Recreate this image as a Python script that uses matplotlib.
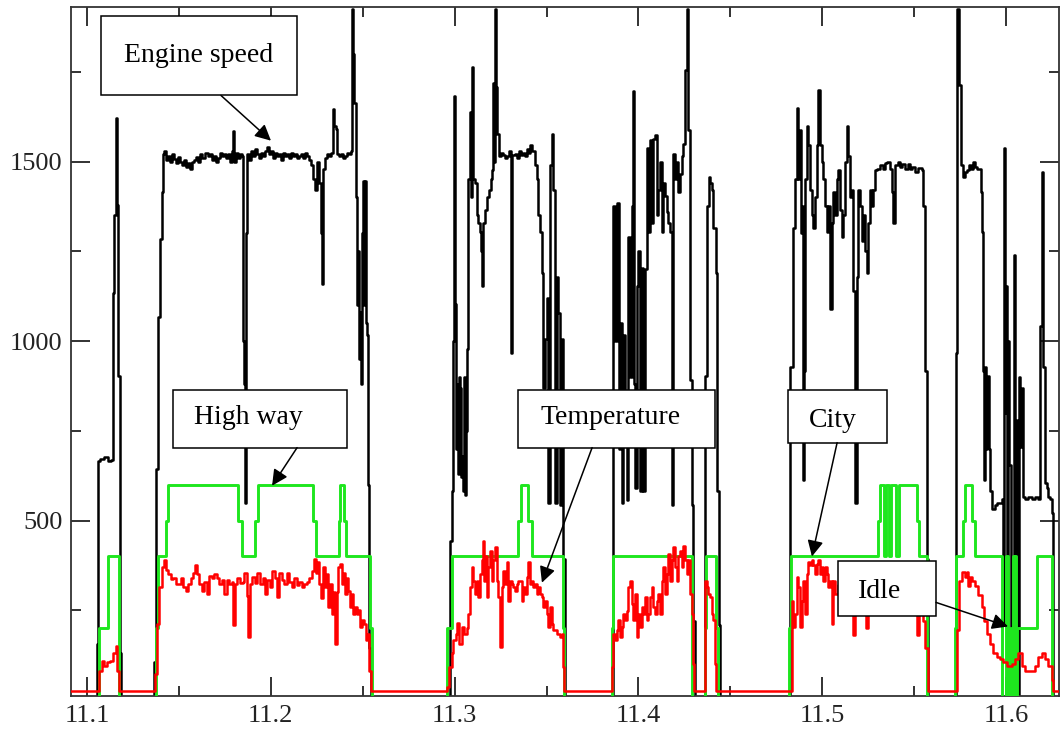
import matplotlib
matplotlib.use("Agg")
import matplotlib.pyplot as plt
from matplotlib.patches import Rectangle

plt.rcParams['font.family'] = ['Liberation Serif', 'DejaVu Serif']

# engine speed (black)
speed_t = [11.0913, 11.1054, 11.1060, 11.1071, 11.1092, 11.1114, 11.1131, 11.1141, 11.1147, 11.1158,
           11.1163, 11.1169, 11.1180, 11.1185, 11.1365, 11.1375, 11.1386, 11.1397, 11.1408, 11.1413,
           11.1419, 11.1430, 11.1441, 11.1452, 11.1462, 11.1473, 11.1484, 11.1495, 11.1506, 11.1517,
           11.1528, 11.1539, 11.1549, 11.1560, 11.1571, 11.1582, 11.1593, 11.1604, 11.1615, 11.1626,
           11.1642, 11.1658, 11.1669, 11.1680, 11.1691, 11.1702, 11.1713, 11.1724, 11.1735, 11.1745,
           11.1756, 11.1767, 11.1778, 11.1789, 11.1794, 11.1800, 11.1811, 11.1822, 11.1832, 11.1843,
           11.1849, 11.1854, 11.1860, 11.1865, 11.1871, 11.1881, 11.1892, 11.1903, 11.1914, 11.1925,
           11.1936, 11.1947, 11.1958, 11.1968, 11.1979, 11.1990, 11.2001, 11.2012, 11.2023, 11.2034,
           11.2045, 11.2055, 11.2066, 11.2077, 11.2088, 11.2099, 11.2110, 11.2121, 11.2132, 11.2143,
           11.2153, 11.2164, 11.2175, 11.2186, 11.2197, 11.2208, 11.2219, 11.2230, 11.2241, 11.2251,
           11.2262, 11.2273, 11.2279, 11.2284, 11.2295, 11.2306, 11.2317, 11.2328, 11.2338, 11.2344,
           11.2355, 11.2360, 11.2371, 11.2382, 11.2393, 11.2404, 11.2415, 11.2425, 11.2436, 11.2442,
           11.2447, 11.2453, 11.2464, 11.2469, 11.2474, 11.2480, 11.2485, 11.2491, 11.2496, 11.2502,
           11.2507, 11.2513, 11.2518, 11.2523, 11.2529, 11.2534, 11.2545,
           11.2959, 11.2975, 11.2986, 11.2991, 11.2997, 11.3002, 11.3008, 11.3013, 11.3018, 11.3024,
           11.3029, 11.3035, 11.3040, 11.3046, 11.3051, 11.3057, 11.3062, 11.3067, 11.3073, 11.3084,
           11.3089, 11.3095, 11.3100, 11.3111, 11.3122, 11.3127, 11.3138, 11.3144, 11.3149, 11.3155,
           11.3165, 11.3176, 11.3187, 11.3198, 11.3204, 11.3209, 11.3214, 11.3220, 11.3225, 11.3231,
           11.3242, 11.3252, 11.3263, 11.3274, 11.3285, 11.3296, 11.3307, 11.3312, 11.3329, 11.3340,
           11.3350, 11.3361, 11.3372, 11.3383, 11.3394, 11.3405, 11.3410, 11.3421, 11.3437, 11.3448,
           11.3454, 11.3465, 11.3476, 11.3481, 11.3492, 11.3503, 11.3508, 11.3519, 11.3530, 11.3535,
           11.3546, 11.3557, 11.3563, 11.3573, 11.3584, 11.3590, 11.3601,
           11.3856, 11.3862, 11.3873, 11.3884, 11.3894, 11.3900, 11.3911, 11.3916, 11.3927, 11.3938,
           11.3943, 11.3954, 11.3965, 11.3971, 11.3976, 11.3981, 11.3992, 11.3998, 11.4009, 11.4020,
           11.4025, 11.4036, 11.4047, 11.4052, 11.4063, 11.4074, 11.4079, 11.4090, 11.4101, 11.4107,
           11.4118, 11.4128, 11.4134, 11.4145, 11.4156, 11.4161, 11.4172, 11.4183, 11.4188, 11.4199,
           11.4210, 11.4215, 11.4226, 11.4237, 11.4243, 11.4254, 11.4264, 11.4270, 11.4281, 11.4292,
           11.4297, 11.4308, 11.4362, 11.4373, 11.4384, 11.4390, 11.4400, 11.4406, 11.4422, 11.4428,
           11.4439, 11.4444,
           11.4819, 11.4825, 11.4841, 11.4852, 11.4863, 11.4868, 11.4879, 11.4885, 11.4890, 11.4896,
           11.4901, 11.4906, 11.4917, 11.4923, 11.4934, 11.4945, 11.4950, 11.4961, 11.4972, 11.4977,
           11.4988, 11.4999, 11.5004, 11.5015, 11.5026, 11.5032, 11.5043, 11.5053, 11.5059, 11.5070,
           11.5081, 11.5086, 11.5097, 11.5108, 11.5113, 11.5124, 11.5135, 11.5141, 11.5151, 11.5162,
           11.5168, 11.5178, 11.5189, 11.5195, 11.5206, 11.5217, 11.5222, 11.5233, 11.5244, 11.5249,
           11.5260, 11.5271, 11.5276, 11.5287, 11.5298, 11.5314, 11.5331, 11.5342, 11.5353, 11.5369,
           11.5380, 11.5385, 11.5396, 11.5412, 11.5423, 11.5434, 11.5450, 11.5467, 11.5478, 11.5489,
           11.5505, 11.5521, 11.5543, 11.5548, 11.5559, 11.5570, 11.5576,
           11.5723, 11.5728, 11.5733, 11.5744, 11.5755, 11.5766, 11.5777, 11.5788, 11.5799, 11.5810,
           11.5821, 11.5831, 11.5842, 11.5853, 11.5864, 11.5870, 11.5875, 11.5880, 11.5886, 11.5891,
           11.5897, 11.5902, 11.5908, 11.5913, 11.5924, 11.5940, 11.5951, 11.5967, 11.5978, 11.5984,
           11.5989, 11.5995, 11.6000, 11.6005, 11.6011, 11.6016, 11.6027, 11.6038, 11.6044, 11.6049,
           11.6055, 11.6060, 11.6065, 11.6071, 11.6076, 11.6087, 11.6092, 11.6103, 11.6120, 11.6141,
           11.6158, 11.6174, 11.6185, 11.6196, 11.6201, 11.6212, 11.6223, 11.6229, 11.6240, 11.6250,
           11.6256, 11.6288]
speed_rpm = [0, 157, 667, 672, 678, 665, 670, 1135, 1352, 1620,
             1380, 904, 132, 0, 107, 643, 1066, 1284, 1414, 1520,
             1530, 1505, 1515, 1500, 1520, 1508, 1495, 1512, 1500, 1490,
             1505, 1485, 1495, 1480, 1498, 1505, 1512, 1500, 1520, 1510,
             1525, 1515, 1520, 1505, 1515, 1500, 1510, 1525, 1515, 1520,
             1510, 1520, 1500, 1530, 1585, 1500, 1525, 1510, 1520, 1515,
             1000, 880, 550, 1300, 1520, 1505, 1530, 1515, 1535, 1520,
             1510, 1525, 1515, 1530, 1540, 1520, 1530, 1510, 1525, 1515,
             1520, 1505, 1525, 1515, 1520, 1510, 1525, 1515, 1520, 1510,
             1515, 1520, 1510, 1525, 1515, 1505, 1490, 1450, 1420, 1500,
             1440, 1300, 1160, 1480, 1510, 1520, 1515, 1525, 1645, 1600,
             1590, 1520, 1515, 1520, 1510, 1515, 1525, 1520, 1530, 1925,
             1800, 1662, 1400, 1100, 1250, 950, 1080, 880, 1300, 1445,
             1100, 1445, 1050, 1016, 600, 146, 0,
             0, 444, 581, 1000, 1682, 1104, 700, 879, 631, 900,
             868, 620, 680, 581, 900, 570, 750, 979, 1452, 1638,
             1400, 1762, 1452, 1440, 1352, 1328, 1303, 1250, 1153, 1328,
             1364, 1402, 1420, 1450, 1475, 1719, 1500, 1925, 1707, 1576,
             1514, 1525, 1517, 1510, 1514, 1530, 966, 1517, 1520, 1510,
             1530, 1518, 1525, 1515, 1535, 1525, 1545, 1530, 1489, 1452,
             1352, 1303, 1190, 868, 1005, 1121, 550, 1489, 1576, 1420,
             550, 1177, 1077, 544, 1005, 394, 0,
             0, 1377, 1000, 1385, 700, 1050, 550, 1016, 800, 556,
             1289, 900, 1377, 1697, 879, 592, 1153, 1252, 581, 1203,
             581, 1200, 1539, 1303, 1561, 1328, 1563, 1574, 1352, 1420,
             1500, 1303, 1440, 1405, 1360, 1330, 1303, 544, 1520, 1452,
             1500, 1414, 1465, 1514, 1550, 1755, 1925, 1589, 892, 544,
             221, 0, 904, 1377, 1457, 1440, 1420, 1314, 1190, 581,
             208, 0,
             0, 929, 1314, 1452, 1650, 1452, 1588, 1300, 1377, 612,
             917, 1452, 1600, 1545, 1420, 1352, 1314, 1402, 1545, 1700,
             1545, 1500, 1452, 1377, 1303, 1377, 1090, 1328, 1414, 1352,
             1452, 1475, 1364, 1290, 1352, 1500, 1600, 1514, 1402, 1420,
             1140, 550, 1177, 1420, 1377, 1278, 1352, 1252, 1190, 1328,
             1420, 1377, 1420, 1475, 1480, 1489, 1480, 1495, 1500, 1480,
             1414, 1328, 1490, 1500, 1485, 1492, 1480, 1492, 1478, 1485,
             1470, 1482, 1475, 1377, 917, 394, 0,
             0, 966, 1925, 1712, 1489, 1457, 1470, 1475, 1490, 1480,
             1500, 1485, 1480, 1480, 1414, 1303, 917, 612, 929, 700,
             868, 904, 700, 581, 531, 544, 550, 548, 561, 208,
             1539, 800, 1153, 10, 1000, 655, 82, 333, 1240, 600,
             128, 779, 10, 900, 705, 868, 567, 560, 567, 560,
             567, 560, 1041, 1470, 929, 606, 592, 567, 561, 520,
             0, 0]

# driving state (green)
state_t = [11.0913, 11.1065, 11.1114, 11.1174, 11.1375, 11.1386, 11.1430, 11.1441, 11.1822, 11.1843,
           11.1914, 11.1930, 11.2230, 11.2246, 11.2371, 11.2377, 11.2398, 11.2409, 11.2540, 11.2551,
           11.2959, 11.2986, 11.3345, 11.3361, 11.3399, 11.3421, 11.3590, 11.3595, 11.3856, 11.3862,
           11.4292, 11.4362, 11.4368, 11.4422, 11.4433, 11.4819, 11.4830, 11.5304, 11.5314, 11.5336,
           11.5347, 11.5363, 11.5374, 11.5401, 11.5418, 11.5516, 11.5527, 11.5570, 11.5723, 11.5728,
           11.5766, 11.5777, 11.5815, 11.5831, 11.5978, 11.6000, 11.6011, 11.6022, 11.6027, 11.6038,
           11.6044, 11.6049, 11.6055, 11.6060, 11.6169, 11.6250, 11.6288]
state_lvl = [0, 200, 400, 0, 200, 400, 500, 600, 500, 400,
             500, 600, 500, 400, 500, 600, 500, 400, 200, 0,
             200, 400, 500, 600, 500, 400, 200, 0, 200, 400,
             0, 200, 400, 200, 0, 200, 400, 500, 600, 400,
             600, 400, 600, 400, 600, 500, 400, 0, 200, 400,
             500, 600, 500, 400, 0, 400, 0, 200, 0, 400,
             0, 400, 0, 200, 400, 0, 0]

# temperature (red)
temp_t = [11.0913, 11.1065, 11.1082, 11.1092, 11.1109, 11.1125, 11.1141, 11.1158, 11.1163, 11.1174,
          11.1370, 11.1381, 11.1392, 11.1408, 11.1419, 11.1430, 11.1441, 11.1457, 11.1468, 11.1484,
          11.1495, 11.1511, 11.1522, 11.1539, 11.1549, 11.1566, 11.1577, 11.1588, 11.1598, 11.1609,
          11.1626, 11.1637, 11.1653, 11.1664, 11.1680, 11.1691, 11.1707, 11.1718, 11.1735, 11.1745,
          11.1762, 11.1773, 11.1789, 11.1794, 11.1805, 11.1816, 11.1832, 11.1849, 11.1854, 11.1871,
          11.1876, 11.1887, 11.1898, 11.1914, 11.1925, 11.1941, 11.1958, 11.1968, 11.1979, 11.1996,
          11.2007, 11.2023, 11.2034, 11.2045, 11.2061, 11.2072, 11.2088, 11.2099, 11.2115, 11.2126,
          11.2143, 11.2153, 11.2170, 11.2181, 11.2197, 11.2208, 11.2224, 11.2235, 11.2246, 11.2251,
          11.2262, 11.2273, 11.2284, 11.2295, 11.2306, 11.2311, 11.2322, 11.2333, 11.2338, 11.2349,
          11.2360, 11.2366, 11.2377, 11.2387, 11.2393, 11.2404, 11.2415, 11.2420, 11.2431, 11.2442,
          11.2447, 11.2458, 11.2469, 11.2474, 11.2485, 11.2496, 11.2507, 11.2518, 11.2523, 11.2534,
          11.2545,
          11.2959, 11.2970, 11.2986, 11.2991, 11.3008, 11.3013, 11.3024, 11.3040, 11.3051, 11.3067,
          11.3073, 11.3084, 11.3095, 11.3100, 11.3111, 11.3122, 11.3127, 11.3138, 11.3149, 11.3155,
          11.3160, 11.3165, 11.3176, 11.3182, 11.3193, 11.3204, 11.3209, 11.3220, 11.3231, 11.3236,
          11.3247, 11.3258, 11.3263, 11.3274, 11.3285, 11.3290, 11.3301, 11.3312, 11.3318, 11.3329,
          11.3340, 11.3345, 11.3356, 11.3367, 11.3372, 11.3383, 11.3394, 11.3399, 11.3410, 11.3421,
          11.3427, 11.3437, 11.3448, 11.3454, 11.3465, 11.3476, 11.3481, 11.3492, 11.3503, 11.3508,
          11.3519, 11.3530, 11.3535, 11.3557, 11.3573, 11.3584, 11.3590, 11.3595,
          11.3856, 11.3862, 11.3873, 11.3884, 11.3889, 11.3900, 11.3911, 11.3916, 11.3927, 11.3938,
          11.3943, 11.3954, 11.3965, 11.3971, 11.3981, 11.3992, 11.3998, 11.4009, 11.4020, 11.4025,
          11.4036, 11.4047, 11.4052, 11.4063, 11.4074, 11.4079, 11.4090, 11.4101, 11.4107, 11.4118,
          11.4128, 11.4134, 11.4145, 11.4156, 11.4161, 11.4172, 11.4183, 11.4188, 11.4199, 11.4210,
          11.4215, 11.4226, 11.4237, 11.4243, 11.4254, 11.4264, 11.4270, 11.4281, 11.4292, 11.4297,
          11.4303, 11.4362, 11.4373, 11.4379, 11.4390, 11.4400, 11.4406, 11.4417, 11.4422,
          11.4836, 11.4841, 11.4852, 11.4863, 11.4868, 11.4879, 11.4890, 11.4896, 11.4906, 11.4917,
          11.4923, 11.4934, 11.4945, 11.4950, 11.4961, 11.4972, 11.4977, 11.4988, 11.4999, 11.5004,
          11.5015, 11.5026, 11.5032, 11.5043, 11.5053, 11.5059, 11.5070, 11.5086, 11.5102, 11.5119,
          11.5135, 11.5151, 11.5168, 11.5178, 11.5195, 11.5211, 11.5228, 11.5238, 11.5249, 11.5266,
          11.5282, 11.5298, 11.5314, 11.5331, 11.5347, 11.5363, 11.5380, 11.5396, 11.5412, 11.5429,
          11.5445, 11.5461, 11.5478, 11.5494, 11.5516, 11.5527, 11.5543, 11.5548, 11.5559, 11.5576,
          11.5733, 11.5744, 11.5761, 11.5777, 11.5788, 11.5793, 11.5804, 11.5815, 11.5831, 11.5848,
          11.5870, 11.5880, 11.5897, 11.5913, 11.5929, 11.5951, 11.5967, 11.5984, 11.6005, 11.6033,
          11.6049, 11.6065, 11.6087, 11.6103, 11.6130, 11.6158, 11.6174, 11.6196, 11.6212, 11.6229,
          11.6250, 11.6256, 11.6288]
temp_val = [25, 82, 110, 96, 105, 110, 130, 152, 82, 25,
            74, 213, 314, 370, 390, 362, 352, 338, 340, 324,
            322, 340, 314, 305, 322, 340, 355, 375, 352, 324,
            305, 330, 296, 345, 340, 350, 340, 322, 335, 296,
            335, 322, 330, 208, 322, 340, 325, 330, 355, 290,
            175, 322, 342, 325, 355, 322, 340, 296, 335, 315,
            360, 340, 286, 355, 335, 322, 355, 330, 315, 340,
            320, 330, 315, 322, 330, 340, 360, 394, 355, 385,
            322, 283, 370, 315, 350, 258, 322, 240, 300, 157,
            300, 370, 380, 322, 355, 296, 340, 305, 258, 296,
            240, 258, 240, 250, 203, 222, 213, 166, 185, 82,
            25,
            36, 91, 130, 166, 185, 216, 157, 203, 185, 200,
            240, 314, 370, 333, 296, 333, 286, 350, 390, 444,
            333, 400, 286, 370, 416, 333, 390, 425, 333, 286,
            147, 314, 360, 322, 384, 277, 333, 322, 314, 305,
            322, 333, 333, 277, 314, 296, 342, 384, 322, 333,
            314, 322, 296, 314, 296, 286, 258, 277, 240, 203,
            258, 213, 194, 185, 175, 185, 91, 25,
            91, 185, 166, 194, 222, 175, 203, 240, 222, 249,
            314, 333, 268, 222, 296, 175, 240, 203, 258, 240,
            286, 222, 240, 286, 314, 258, 240, 277, 296, 240,
            333, 370, 296, 350, 407, 333, 390, 425, 370, 333,
            400, 416, 370, 430, 390, 350, 390, 296, 240, 101,
            25, 333, 314, 296, 286, 240, 222, 101, 25,
            277, 203, 240, 342, 314, 203, 277, 333, 240, 350,
            384, 377, 390, 377, 350, 380, 390, 350, 370, 333,
            370, 350, 314, 333, 213, 333, 296, 320, 290, 310,
            285, 300, 180, 290, 305, 280, 300, 200, 290, 310,
            285, 300, 275, 295, 280, 300, 270, 290, 275, 295,
            270, 285, 260, 280, 180, 270, 240, 221, 146, 25,
            196, 333, 358, 344, 358, 319, 344, 333, 319, 294,
            258, 221, 183, 157, 132, 121, 115, 107, 96, 100,
            115, 132, 96, 82, 82, 96, 121, 132, 115, 96,
            57, 25, 25]

x_ticks = [11.1, 11.2, 11.3, 11.4, 11.5, 11.6]
y_ticks = [500, 1000, 1500]

fig = plt.figure(figsize=(10.61, 7.33), dpi=100)
ax = fig.add_axes([0.0669, 0.0498, 0.9312, 0.9400])

ax.plot(speed_t, speed_rpm, color='black', lw=1.8, drawstyle='steps-post', zorder=2)
ax.plot(state_t, state_lvl, color='#1ee61e', lw=2.1, drawstyle='steps-post', zorder=3)
ax.plot(temp_t, temp_val, color='red', lw=1.8, drawstyle='steps-post', zorder=4)

ax.set_xlim(11.0913, 11.6288)
ax.set_ylim(10, 1929)
ax.set_xticks(x_ticks)
ax.set_xticklabels([str(v) for v in x_ticks])
ax.set_xticks([11.15, 11.25, 11.35, 11.45, 11.55], minor=True)
ax.set_yticks(y_ticks)
ax.set_yticks([250, 750, 1250, 1750], minor=True)
ax.tick_params(which='both', direction='in', top=True, right=True, width=1.3, colors='#222222')
ax.tick_params(which='major', length=14, labelsize=19, pad=6)
ax.tick_params(which='minor', length=7)
for s in ax.spines.values():
    s.set_linewidth(1.3)
    s.set_color('#333333')

# annotation boxes: (label, box x0, x1, y0, y1, text x, text y, arrow tail, arrow tip)
notes = [
    ('Engine speed', 11.1076, 11.2143, 1684, 1904, 11.1609, 1795, (11.1729, 1684), (11.2001, 1558)),
    ('High way', 11.1468, 11.2415, 703, 865, 11.1876, 787, (11.2143, 703), (11.2007, 597)),
    ('Temperature', 11.3345, 11.4417, 703, 865, 11.3851, 787, (11.3748, 703), (11.3475, 327)),
    ('City', 11.4814, 11.5353, 717, 865, 11.5059, 778, (11.5081, 717), (11.4944, 400)),
    ('Idle', 11.5086, 11.5619, 233, 386, 11.5314, 302, (11.5619, 272), (11.6011, 205)),
]
for label, x0, x1, y0, y1, tx, ty, tail, tip in notes:
    ax.add_patch(Rectangle((x0, y0), x1 - x0, y1 - y0, facecolor='white',
                           edgecolor='black', lw=1.1, zorder=6))
    ax.text(tx, ty, label, ha='center', va='center', fontsize=20, zorder=7)
    ax.annotate('', xy=tip, xytext=tail,
                arrowprops=dict(arrowstyle='-|>', color='black', lw=1.1,
                                mutation_scale=24, shrinkA=0, shrinkB=0),
                zorder=7)

fig.savefig('out.png', dpi=100)
